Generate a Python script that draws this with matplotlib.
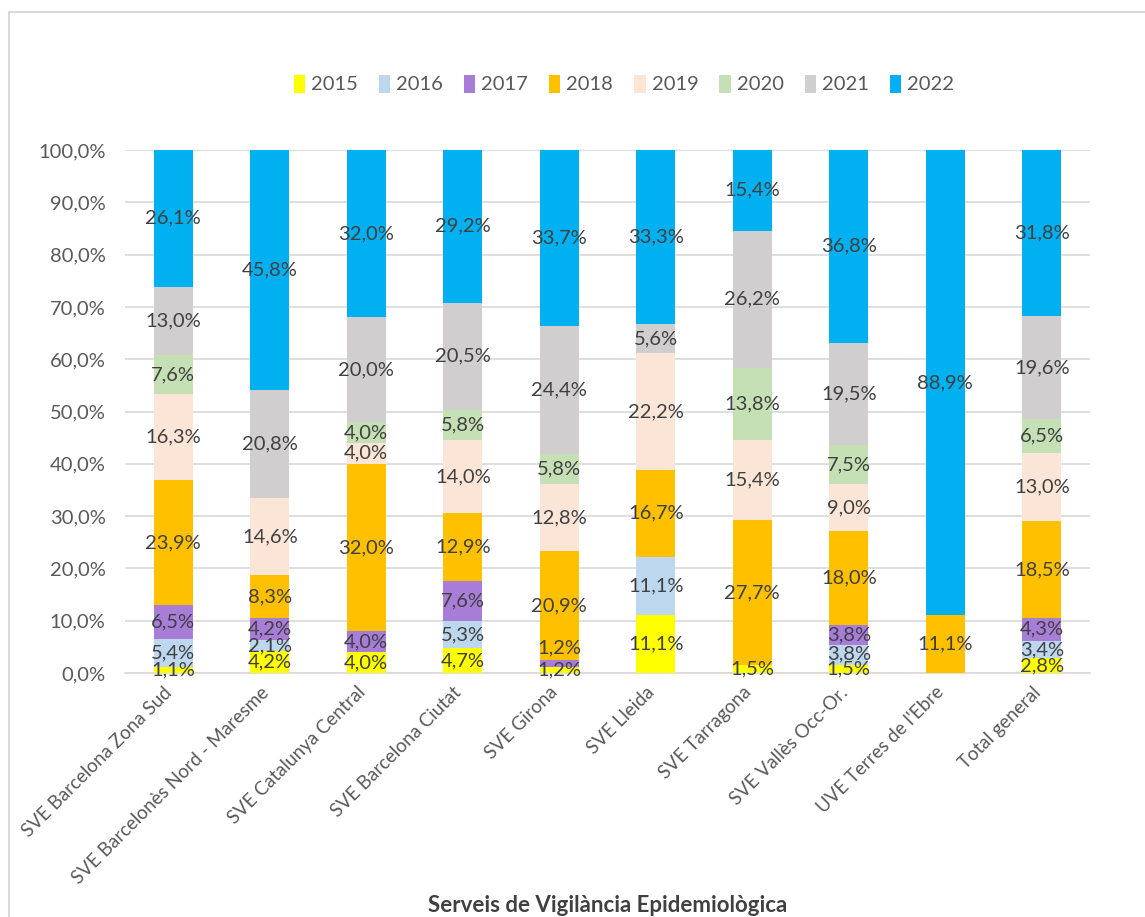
import matplotlib
matplotlib.use("Agg")
import matplotlib.pyplot as plt
from matplotlib.patches import Rectangle
from matplotlib.transforms import ScaledTranslation
import numpy as np

plt.rcParams['font.family'] = ['Lato', 'DejaVu Sans']

categories = ["SVE Barcelona Zona Sud", "SVE Barcelonès Nord - Maresme", "SVE Catalunya Central",
              "SVE Barcelona Ciutat", "SVE Girona", "SVE Lleida", "SVE Tarragona",
              "SVE Vallès Occ-Or.", "UVE Terres de l'Ebre", "Total general"]
years = ["2015", "2016", "2017", "2018", "2019", "2020", "2021", "2022"]

v2015 = [1.1, 4.2, 4.0, 4.7, 1.2, 11.1, 1.5, 1.5, 0.0, 2.8]
v2016 = [5.4, 2.1, 0.0, 5.3, 0.0, 11.1, 0.0, 3.8, 0.0, 3.4]
v2017 = [6.5, 4.2, 4.0, 7.6, 1.2, 0.0, 0.0, 3.8, 0.0, 4.3]
v2018 = [23.9, 8.3, 32.0, 12.9, 20.9, 16.7, 27.7, 18.0, 11.1, 18.5]
v2019 = [16.3, 14.6, 4.0, 14.0, 12.8, 22.2, 15.4, 9.0, 0.0, 13.0]
v2020 = [7.6, 0.0, 4.0, 5.8, 5.8, 0.0, 13.8, 7.5, 0.0, 6.5]
v2021 = [13.0, 20.8, 20.0, 20.5, 24.4, 5.6, 26.2, 19.5, 0.0, 19.6]
v2022 = [26.1, 45.8, 32.0, 29.2, 33.7, 33.3, 15.4, 36.8, 88.9, 31.8]

series = [v2015, v2016, v2017, v2018, v2019, v2020, v2021, v2022]
colors = ["#FFFF00", "#BDD7EE", "#A87DD8", "#FFC000", "#FBE5D6", "#C5E0B4", "#D0CECE", "#00B0F0"]

fig = plt.figure(figsize=(11.45, 9.17), dpi=100)
ax = fig.add_axes([125/1145, 1-673/917, (1090-125)/1145, (673-150)/917])

# outer frame
fig.patches.append(Rectangle((9/1145, -0.1), 1.2, 1-12/917+0.1, transform=fig.transFigure,
                             fill=False, edgecolor="#D9D9D9", linewidth=1.5))

data = np.array(series, dtype=float)
totals = data.sum(axis=0)
shares = data / totals * 100.0   # 100% stacked

x = np.arange(len(categories))
bottom = np.zeros(len(categories))
last_label = np.full(len(categories), -100.0)
handles = []
for vals, share, col, yr in zip(data, shares, colors, years):
    b = ax.bar(x, share, 0.4, bottom=bottom, color=col, label=yr, zorder=3)
    handles.append(b)
    for i, (v, h, bt) in enumerate(zip(vals, share, bottom)):
        if v > 0:
            yc = bt + h / 2
            gap = yc - last_label[i]
            if gap < 2.0:
                yc = last_label[i] + 4.2
            elif gap < 3.0:
                yc = last_label[i] + 3.0
            last_label[i] = yc
            ax.text(i, yc, f"{v:.1f}%".replace(".", ","), ha="center", va="center",
                    fontsize=14.5, color="#404040", zorder=4)
    bottom = bottom + share

ax.set_xlim(-0.5, len(categories) - 0.5)
ax.set_ylim(0, 100)
ax.set_yticks(np.arange(0, 101, 10))
ax.set_yticklabels([f"{t:.1f}%".replace(".", ",") for t in np.arange(0, 101, 10)],
                   fontsize=14.5, color="#595959")
ax.yaxis.grid(True, color="#D9D9D9", linewidth=1.2, zorder=0)
ax.set_axisbelow(True)
for s in ["top", "right", "left"]:
    ax.spines[s].set_visible(False)
ax.spines["bottom"].set_color("#D9D9D9")
ax.spines["bottom"].set_linewidth(1.2)
ax.tick_params(axis="both", length=0)
ax.tick_params(axis="y", pad=14)

ax.set_xticks(x)
ax.set_xticklabels(categories, rotation=45, ha="right", va="center", rotation_mode="anchor",
                   fontsize=13.5, color="#595959")
ax.tick_params(axis="x", pad=12)
off = ScaledTranslation(-4/100, 0, fig.dpi_scale_trans)
for lbl in ax.get_xticklabels():
    lbl.set_transform(lbl.get_transform() + off)

fig.text(608/1145, 1-905/917, "Serveis de Vigilància Epidemiològica", ha="center", va="center",
         fontsize=16, fontweight="bold", color="#404040")

leg = fig.legend(handles=handles, labels=years, loc="center", bbox_to_anchor=(624/1145, 1-84/917),
                 ncol=8, frameon=False, fontsize=14.5, handlelength=0.55, handleheight=1.0,
                 handletextpad=0.3, columnspacing=1.05)
for t in leg.get_texts():
    t.set_color("#595959")

fig.savefig("out.png", dpi=100, facecolor="white")
